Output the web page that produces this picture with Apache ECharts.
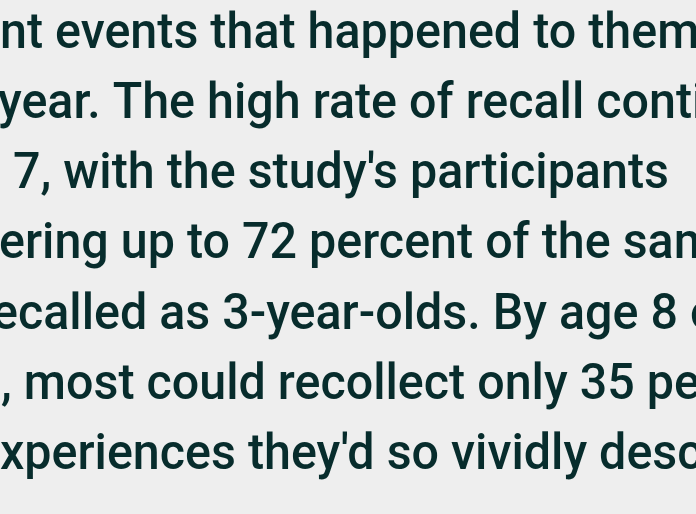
<!DOCTYPE html>
<html>
<head>
<meta charset="utf-8">
<script src="https://cdn.jsdelivr.net/npm/echarts@6/dist/echarts.min.js"></script>
<style>
  html, body { margin: 0; padding: 0; background: #eeeeee; }
  #main { width: 696px; height: 514px; }
</style>
</head>
<body>
<div id="main"></div>
<script>
// visible text of each line (the paragraph is cropped on both sides)
var lines = [
    'nt events that happened to them',
    'year. The high rate of recall conti',
    '7, with the study\'s participants',
    'ering up to 72 percent of the sam',
    'ecalled as 3-year-olds. By age 8 o',
    ', most could recollect only 35 pe',
    'xperiences they\'d so vividly desc'
];

var chart = echarts.init(document.getElementById('main'));

// 版式
var fontFamily = 'Roboto';
var fontWeight = 500;
var lineLeft = [0, -2, 13, -1, -8, 1, 0];
var firstBaseline = 47;
var lineGap = 70.2;

// fit line 3 (the only uncut one) to its width in the picture
var cv = document.createElement('canvas').getContext('2d');
cv.font = fontWeight + ' 100px ' + fontFamily;
var w100 = cv.measureText(lines[2]).width;
var fontSize = 100 * 656 / w100;
// the source face is narrower, so stretch up to its x-height
var scaleY = 26.6 / (0.528 * fontSize);

var elements = lines.map(function (t, i) {
    return {
        type: 'text',
        x: lineLeft[i],
        y: firstBaseline + i * lineGap + 0.26 * fontSize * scaleY,
        scaleY: scaleY,
        style: {
            text: t,
            x: 0,
            y: 0,
            fill: '#072c2c',
            font: fontWeight + ' ' + fontSize + 'px ' + fontFamily,
            textAlign: 'left',
            textVerticalAlign: 'bottom'
        }
    };
});

chart.setOption({
    backgroundColor: '#eeeeee',
    animation: false,
    graphic: { elements: elements }
});
</script>
</body>
</html>
